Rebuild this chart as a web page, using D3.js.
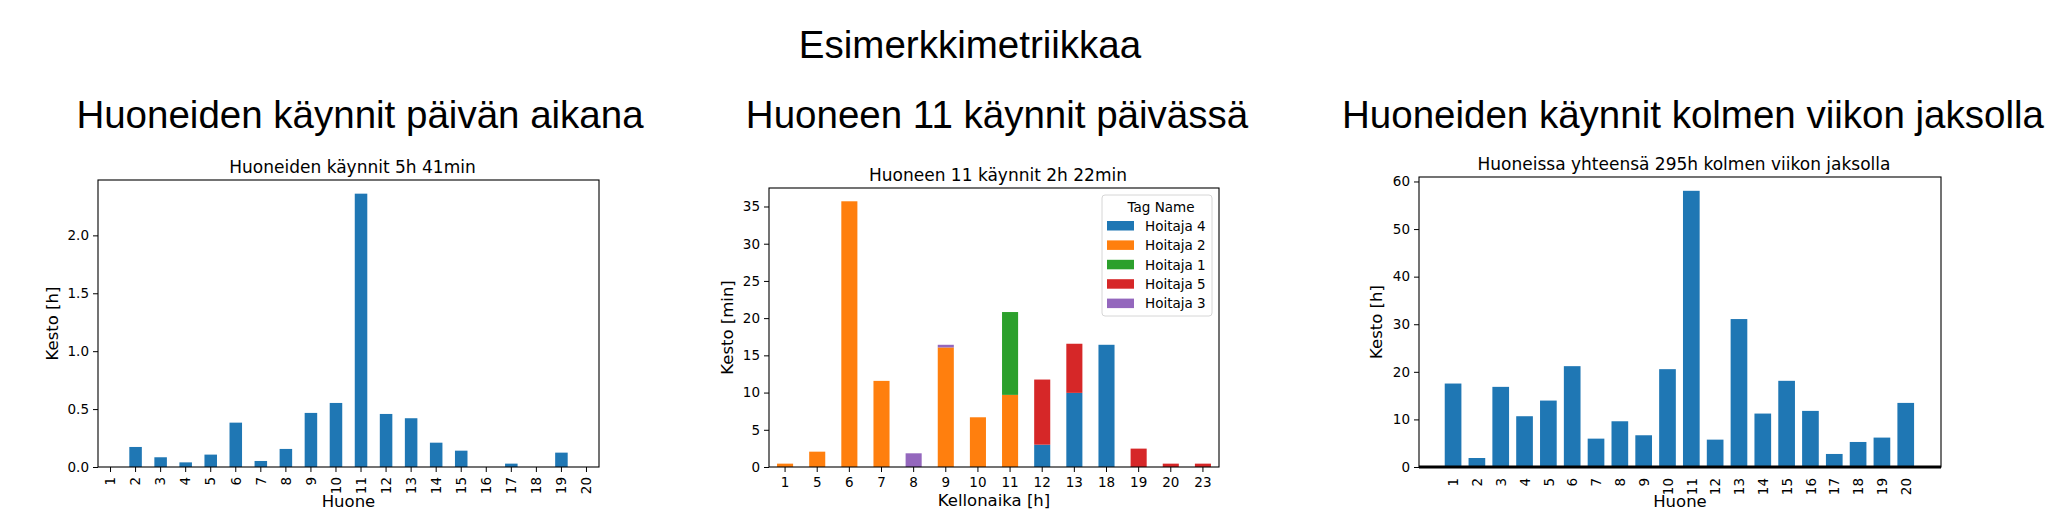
<!DOCTYPE html>
<html>
<head>
<meta charset="utf-8">
<script src="https://cdn.jsdelivr.net/npm/d3@7"></script>
<style>
body { margin: 0; background: #fff; }
text { font-family: "DejaVu Sans", sans-serif; fill: #000; }
.big { font-family: "Liberation Sans", Arial, sans-serif; font-size: 38.5px; }
.sub { font-size: 17px; }
.axis-label { font-size: 16.5px; }
</style>
</head>
<body>
<div id="svg"></div>
<script>
// rooms 1..20
let rooms = ['1','2','3','4','5','6','7','8','9','10','11','12','13','14','15','16','17','18','19','20'];

// visits during one day, hours per room
let dayHours = [0, 0.173, 0.084, 0.040, 0.107, 0.383, 0.052, 0.156, 0.467, 0.553,
                2.36, 0.458, 0.421, 0.210, 0.141, 0, 0.029, 0, 0.124, 0];

// visits during three weeks, hours per room
let weekHours = [17.54, 1.89, 16.84, 10.67, 13.96, 21.19, 5.96, 9.61, 6.67, 20.56,
                 58.04, 5.75, 31.09, 11.23, 18.11, 11.79, 2.74, 5.26, 6.18, 13.47];

// room 11 by hour of day, minutes per nurse
let hours = ['1','5','6','7','8','9','10','11','12','13','18','19','20','23'];
let nurses = ['Hoitaja 4','Hoitaja 2','Hoitaja 1','Hoitaja 5','Hoitaja 3'];
let nurseColors = ['#1f77b4','#ff7f0e','#2ca02c','#d62728','#9467bd'];
let hoitaja4 = [0, 0, 0, 0, 0, 0, 0, 0, 3.0, 9.96, 16.42, 0, 0, 0];
let hoitaja2 = [0.45, 2.06, 35.7, 11.57, 0, 16.06, 6.68, 9.69, 0, 0, 0, 0, 0, 0];
let hoitaja1 = [0, 0, 0, 0, 0, 0, 0, 11.13, 0, 0, 0, 0, 0, 0];
let hoitaja5 = [0, 0, 0, 0, 0, 0, 0, 0, 8.75, 6.6, 0, 2.47, 0.45, 0.45];
let hoitaja3 = [0, 0, 0, 0, 1.84, 0.36, 0, 0, 0, 0, 0, 0, 0, 0];

let dayTicks = [0, 0.5, 1.0, 1.5, 2.0];
let hourTicks = [0, 5, 10, 15, 20, 25, 30, 35];
let weekTicks = [0, 10, 20, 30, 40, 50, 60];

function styleAxis(g) {
    g.attr('font-family', null).attr('font-size', null);
    g.select('.domain').remove();
    g.selectAll('.tick line').attr('stroke', '#000').attr('stroke-width', 1);
    g.selectAll('.tick text').style('font-size', '13.5px');
}

function frame(svg, box) {
    svg.append('rect')
        .attr('x', box.x).attr('y', box.y)
        .attr('width', box.w).attr('height', box.h)
        .attr('fill', 'none')
        .attr('stroke', '#000')
        .attr('stroke-width', 1.1);
}

function labels(svg, box, title, xText, xBase, yText, yX) {
    svg.append('text')
        .classed('sub', true)
        .attr('x', box.x + box.w / 2 + 4)
        .attr('y', box.y - 7)
        .attr('text-anchor', 'middle')
        .text(title);
    svg.append('text')
        .classed('axis-label', true)
        .attr('x', box.x + box.w / 2)
        .attr('y', xBase)
        .attr('text-anchor', 'middle')
        .text(xText);
    svg.append('text')
        .classed('axis-label', true)
        .attr('transform', `translate(${yX}, ${box.y + box.h / 2}) rotate(-90)`)
        .attr('text-anchor', 'middle')
        .text(yText);
}

function dayChart(svg) {
    let box = {x: 98, y: 180, w: 501, h: 287};
    let xScale = d3.scaleBand()
        .domain(rooms)
        .range([box.x, box.x + box.w])
        .paddingInner(0.5)
        .paddingOuter(0.25);
    let yScale = d3.scaleLinear()
        .domain([0, d3.max(dayHours) * 1.05])
        .range([box.y + box.h, box.y]);

    svg.append('g').selectAll('rect')
        .data(rooms)
        .enter()
        .append('rect')
        .attr('x', d => xScale(d))
        .attr('width', xScale.bandwidth())
        .attr('y', (d, i) => yScale(dayHours[i]))
        .attr('height', (d, i) => yScale(0) - yScale(dayHours[i]))
        .attr('fill', '#1f77b4');

    let xAxisGroup = svg.append('g')
        .attr('transform', `translate(0, ${box.y + box.h})`)
        .call(d3.axisBottom(xScale).tickSize(5));
    styleAxis(xAxisGroup);
    xAxisGroup.selectAll('.tick text')
        .attr('transform', 'rotate(-90)')
        .attr('x', -10)
        .attr('y', 0)
        .attr('dy', '0.35em')
        .attr('text-anchor', 'end');

    let yAxisGroup = svg.append('g')
        .attr('transform', `translate(${box.x}, 0)`)
        .call(d3.axisLeft(yScale).tickValues(dayTicks).tickFormat(d3.format('.1f')).tickSize(5).tickPadding(4));
    styleAxis(yAxisGroup);

    frame(svg, box);
    labels(svg, box, 'Huoneiden käynnit 5h 41min', 'Huone', 507, 'Kesto [h]', 58);
}

function hourChart(svg) {
    let box = {x: 769, y: 188, w: 450, h: 279};
    let series = [hoitaja4, hoitaja2, hoitaja1, hoitaja5, hoitaja3];
    let table = hours.map((h, i) => {
        let row = {hour: h};
        nurses.forEach((n, k) => row[n] = series[k][i]);
        return row;
    });
    let stacked = d3.stack().keys(nurses)(table);

    let xScale = d3.scaleBand()
        .domain(hours)
        .range([box.x, box.x + box.w])
        .paddingInner(0.5)
        .paddingOuter(0.25);
    let yScale = d3.scaleLinear()
        .domain([0, d3.max(table, d => d3.sum(nurses, n => d[n])) * 1.05])
        .range([box.y + box.h, box.y]);

    svg.append('g').selectAll('g')
        .data(stacked)
        .enter()
        .append('g')
        .attr('fill', (d, k) => nurseColors[k])
        .selectAll('rect')
        .data(d => d.filter(p => p[1] > p[0]))
        .enter()
        .append('rect')
        .attr('x', d => xScale(d.data.hour))
        .attr('width', xScale.bandwidth())
        .attr('y', d => yScale(d[1]))
        .attr('height', d => yScale(d[0]) - yScale(d[1]));

    let xAxisGroup = svg.append('g')
        .attr('transform', `translate(0, ${box.y + box.h})`)
        .call(d3.axisBottom(xScale).tickSize(5).tickPadding(5));
    styleAxis(xAxisGroup);

    let yAxisGroup = svg.append('g')
        .attr('transform', `translate(${box.x}, 0)`)
        .call(d3.axisLeft(yScale).tickValues(hourTicks).tickSize(5).tickPadding(4));
    styleAxis(yAxisGroup);

    frame(svg, box);
    labels(svg, box, 'Huoneen 11 käynnit 2h 22min', 'Kellonaika [h]', 506, 'Kesto [min]', 733);

    // legend
    let lw = 110, lh = 121;
    let legend = svg.append('g')
        .attr('transform', `translate(${box.x + box.w - 7 - lw}, ${box.y + 7})`);
    legend.append('rect')
        .attr('width', lw).attr('height', lh)
        .attr('rx', 3)
        .attr('fill', '#fff').attr('fill-opacity', 0.8)
        .attr('stroke', '#d6d6d6');
    legend.append('text')
        .attr('x', lw / 2 + 4)
        .attr('y', 17)
        .attr('text-anchor', 'middle')
        .style('font-size', '13.5px')
        .text('Tag Name');
    let items = legend.selectAll('.item')
        .data(nurses)
        .enter()
        .append('g')
        .attr('transform', (d, i) => `translate(5, ${31 + i * 19.4})`);
    items.append('rect')
        .attr('x', 0).attr('y', -5)
        .attr('width', 27).attr('height', 9.5)
        .attr('fill', (d, i) => nurseColors[i]);
    items.append('text')
        .attr('x', 38)
        .attr('dy', '0.36em')
        .style('font-size', '13.5px')
        .text(d => d);
}

function weekChart(svg) {
    let box = {x: 1419, y: 177, w: 522, h: 290};
    let xScale = d3.scaleLinear()
        .domain([-0.43, 21.48])
        .range([box.x, box.x + box.w]);
    let yScale = d3.scaleLinear()
        .domain([0, d3.max(weekHours) * 1.05])
        .range([box.y + box.h, box.y]);
    let bw = 0.7;

    svg.append('g').selectAll('rect')
        .data(rooms)
        .enter()
        .append('rect')
        .attr('x', d => xScale(+d - bw / 2))
        .attr('width', xScale(bw) - xScale(0))
        .attr('y', (d, i) => yScale(weekHours[i]))
        .attr('height', (d, i) => yScale(0) - yScale(weekHours[i]))
        .attr('fill', '#1f77b4');

    let xAxisGroup = svg.append('g')
        .attr('transform', `translate(0, ${box.y + box.h})`)
        .call(d3.axisBottom(xScale).tickValues(rooms.map(Number)).tickFormat(d3.format('d')).tickSize(0));
    styleAxis(xAxisGroup);
    xAxisGroup.selectAll('.tick text')
        .attr('transform', 'rotate(-90)')
        .attr('x', -11)
        .attr('y', 0)
        .attr('dy', '0.35em')
        .attr('text-anchor', 'end');

    let yAxisGroup = svg.append('g')
        .attr('transform', `translate(${box.x}, 0)`)
        .call(d3.axisLeft(yScale).tickValues(weekTicks).tickSize(5).tickPadding(4));
    styleAxis(yAxisGroup);

    frame(svg, box);
    svg.append('line')
        .attr('x1', box.x).attr('x2', box.x + box.w)
        .attr('y1', yScale(0)).attr('y2', yScale(0))
        .attr('stroke', '#000')
        .attr('stroke-width', 3);
    labels(svg, box, 'Huoneissa yhteensä 295h kolmen viikon jaksolla', 'Huone', 507, 'Kesto [h]', 1382);
}

function makeGraph() {
    let w = 2064, h = 512;
    let svg = d3.select('#svg')
        .append('svg')
        .attr('width', w)
        .attr('height', h);

    svg.append('text').classed('big', true)
        .attr('x', 970).attr('y', 58)
        .attr('text-anchor', 'middle')
        .text('Esimerkkimetriikkaa');
    svg.append('text').classed('big', true)
        .attr('x', 360).attr('y', 128)
        .attr('text-anchor', 'middle')
        .text('Huoneiden käynnit päivän aikana');
    svg.append('text').classed('big', true)
        .attr('x', 997).attr('y', 128)
        .attr('text-anchor', 'middle')
        .text('Huoneen 11 käynnit päivässä');
    svg.append('text').classed('big', true)
        .attr('x', 1693).attr('y', 128)
        .attr('text-anchor', 'middle')
        .text('Huoneiden käynnit kolmen viikon jaksolla');

    dayChart(svg);
    hourChart(svg);
    weekChart(svg);
}

window.onload = () => {
    makeGraph();
}
</script>
</body>
</html>
